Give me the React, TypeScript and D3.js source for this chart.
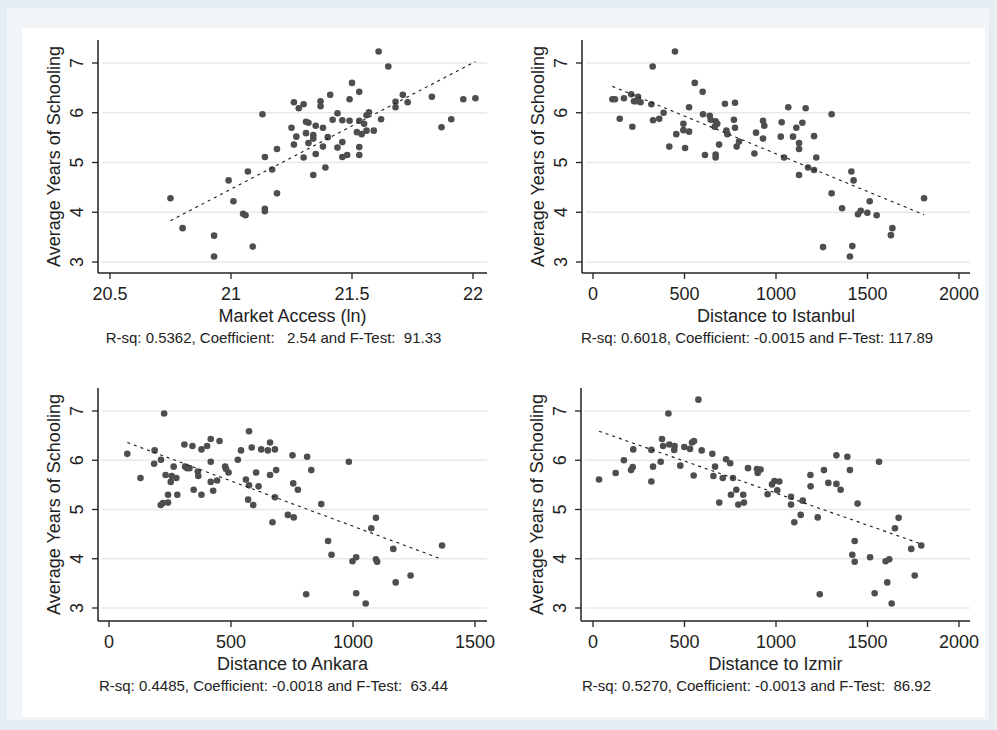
import React from "react";
import * as d3 from "d3";

// values
const yTicks = [3, 4, 5, 6, 7];
const yTitle = "Average Years of Schooling";

const marketAccessPts = [
  [20.75, 4.28], [20.80, 3.68], [20.93, 3.53], [20.93, 3.11], [20.99, 4.64], [21.01, 4.22],
  [21.05, 3.97], [21.06, 3.94], [21.07, 4.82], [21.09, 3.31], [21.13, 5.97], [21.14, 5.11],
  [21.14, 4.07], [21.14, 4.02], [21.17, 4.86], [21.19, 5.27], [21.19, 4.38], [21.25, 5.70],
  [21.26, 6.21], [21.26, 5.36], [21.27, 5.52], [21.28, 6.09], [21.30, 6.17], [21.30, 5.10],
  [21.31, 5.82], [21.32, 5.80], [21.31, 5.59], [21.32, 5.39], [21.34, 4.75], [21.34, 5.55],
  [21.34, 5.48], [21.35, 5.74], [21.35, 5.17], [21.37, 6.13], [21.37, 6.23], [21.38, 5.70],
  [21.38, 5.32], [21.39, 4.90], [21.40, 5.51], [21.41, 6.36], [21.42, 5.86], [21.44, 5.99],
  [21.44, 5.30], [21.46, 5.85], [21.46, 5.41], [21.46, 5.11], [21.48, 5.15], [21.49, 5.84],
  [21.49, 6.27], [21.50, 6.60], [21.52, 5.61], [21.53, 5.31], [21.53, 5.84], [21.53, 6.42],
  [21.53, 5.15], [21.54, 5.57], [21.55, 5.78], [21.56, 5.95], [21.56, 5.64], [21.57, 6.01],
  [21.59, 5.64], [21.61, 7.23], [21.62, 5.87], [21.65, 6.93], [21.68, 6.22], [21.68, 6.11],
  [21.71, 6.36], [21.73, 6.21], [21.83, 6.32], [21.87, 5.71], [21.91, 5.87], [21.96, 6.27],
  [22.01, 6.29],
];

const istanbulPts = [
  [106, 6.27], [120, 6.27], [146, 5.88], [169, 6.29], [209, 6.37], [215, 5.72], [224, 6.23],
  [246, 6.32], [235, 6.23], [260, 6.21], [319, 6.17], [326, 6.93], [328, 5.85], [362, 5.88],
  [386, 6.00], [417, 5.32], [455, 5.57], [494, 5.78], [494, 5.65], [503, 5.29], [525, 5.62],
  [525, 6.11], [448, 7.23], [556, 6.60], [599, 6.42], [601, 5.97], [612, 5.15], [638, 5.94],
  [643, 5.86], [665, 5.72], [670, 5.83], [670, 5.16], [670, 5.10], [679, 5.78], [689, 5.36],
  [721, 6.18], [729, 5.64], [734, 5.57], [776, 6.20], [770, 5.86], [776, 5.70], [785, 5.32],
  [798, 5.42], [882, 5.18], [891, 5.60], [929, 5.84], [936, 5.74], [929, 5.48], [1026, 5.52],
  [1031, 5.81], [1044, 5.10], [1067, 6.11], [1093, 5.52], [1111, 5.70], [1126, 5.39],
  [1126, 5.27], [1126, 4.75], [1144, 5.80], [1162, 6.09], [1175, 4.90], [1208, 5.53],
  [1208, 4.85], [1220, 5.10], [1257, 3.30], [1304, 5.97], [1304, 4.38], [1361, 4.08],
  [1412, 4.82], [1404, 3.11], [1417, 3.32], [1424, 4.64], [1448, 3.96], [1463, 4.03],
  [1499, 3.99], [1512, 4.22], [1550, 3.94], [1628, 3.54], [1636, 3.68], [1809, 4.28],
];

const ankaraPts = [
  [75, 6.13], [129, 5.64], [185, 5.93], [187, 6.20], [213, 6.01], [212, 5.09], [221, 5.13],
  [226, 6.95], [232, 5.70], [242, 5.14], [242, 5.30], [253, 5.56], [257, 5.68], [265, 5.87],
  [276, 5.64], [280, 5.30], [309, 6.32], [312, 5.87], [320, 5.84], [330, 5.84], [342, 6.29],
  [347, 5.40], [364, 5.77], [366, 5.68], [379, 6.22], [379, 5.30], [402, 6.29], [417, 6.43],
  [417, 5.97], [417, 5.56], [427, 5.38], [443, 5.59], [453, 6.39], [476, 5.87], [480, 5.82],
  [490, 5.75], [528, 6.01], [541, 6.20], [561, 5.61], [570, 5.20], [574, 6.59], [574, 5.49],
  [585, 6.26], [591, 5.09], [603, 5.75], [613, 5.47], [624, 6.22], [651, 6.20], [660, 6.36],
  [660, 5.70], [670, 4.74], [680, 6.22], [680, 5.25], [685, 5.80], [733, 4.89], [752, 6.10],
  [755, 5.53], [757, 4.84], [774, 5.40], [808, 3.28], [812, 6.07], [829, 5.80], [870, 5.11],
  [898, 4.36], [912, 4.08], [983, 5.97], [998, 3.95], [1013, 4.03], [1013, 3.30], [1052, 3.09],
  [1075, 4.62], [1094, 4.83], [1094, 3.99], [1099, 3.94], [1165, 4.20], [1175, 3.52],
  [1236, 3.66], [1365, 4.27],
];

const izmirPts = [
  [33, 5.61], [124, 5.74], [169, 6.00], [208, 5.80], [217, 5.86], [220, 6.22], [319, 6.21],
  [319, 5.57], [328, 5.87], [370, 5.97], [377, 6.43], [383, 6.29], [412, 6.95], [417, 6.32],
  [444, 6.21], [446, 6.29], [477, 5.89], [499, 6.27], [530, 6.23], [541, 6.36], [552, 6.39],
  [550, 5.69], [576, 7.23], [594, 6.20], [652, 6.13], [658, 5.68], [667, 5.87], [690, 5.14],
  [709, 5.64], [727, 6.02], [750, 5.94], [754, 5.30], [765, 5.64], [783, 5.40], [794, 5.10],
  [821, 5.30], [825, 5.14], [847, 5.84], [896, 5.82], [900, 5.74], [916, 5.81], [954, 5.31],
  [978, 5.51], [991, 5.58], [1007, 5.39], [1018, 5.57], [1082, 5.26], [1082, 5.10],
  [1100, 4.74], [1135, 4.89], [1146, 5.18], [1188, 5.70], [1189, 5.47], [1228, 4.84],
  [1239, 3.28], [1262, 5.80], [1286, 5.54], [1330, 6.10], [1330, 5.52], [1353, 5.40],
  [1390, 6.07], [1404, 5.80], [1417, 4.08], [1430, 4.36], [1430, 3.94], [1446, 5.12],
  [1514, 4.03], [1539, 3.30], [1563, 5.97], [1599, 3.95], [1608, 3.52], [1619, 3.99],
  [1632, 3.09], [1650, 4.62], [1670, 4.83], [1739, 4.20], [1758, 3.66], [1794, 4.27],
];

// fitted line end points
const marketAccessFit = [[20.75, 3.83], [22.01, 7.03]];
const istanbulFit = [[106, 6.53], [1809, 3.95]];
const ankaraFit = [[75, 6.36], [1365, 3.99]];
const izmirFit = [[33, 6.59], [1794, 4.30]];

const marketAccessTicks = [20.5, 21, 21.5, 22];
const distTicks2000 = [0, 500, 1000, 1500, 2000];
const distTicks1500 = [0, 500, 1000, 1500];

const xTitles = ["Market Access (ln)", "Distance to Istanbul", "Distance to Ankara", "Distance to Izmir"];
const captions = [
  "R-sq: 0.5362, Coefficient:   2.54 and F-Test:  91.33",
  "R-sq: 0.6018, Coefficient: -0.0015 and F-Test: 117.89",
  "R-sq: 0.4485, Coefficient: -0.0018 and F-Test:  63.44",
  "R-sq: 0.5270, Coefficient: -0.0013 and F-Test:  86.92",
];

const font = '"Liberation Sans", Arial, sans-serif';
const ink = "#222";

const panels = [
  { pts: marketAccessPts, fit: marketAccessFit, ticks: marketAccessTicks, xd: [20.5, 22], xr: [110, 473], left: 98, right: 487, top: 40, bottom: 273, yr: [262, 63] },
  { pts: istanbulPts, fit: istanbulFit, ticks: distTicks2000, xd: [0, 2000], xr: [593, 959], left: 582, right: 970, top: 40, bottom: 273, yr: [262, 63] },
  { pts: ankaraPts, fit: ankaraFit, ticks: distTicks1500, xd: [0, 1500], xr: [109, 475], left: 98, right: 487, top: 388, bottom: 621, yr: [608, 411] },
  { pts: izmirPts, fit: izmirFit, ticks: distTicks2000, xd: [0, 2000], xr: [593, 959], left: 581, right: 970, top: 388, bottom: 621, yr: [608, 411] },
];

function Panel({ p, i }) {
  const x = d3.scaleLinear().domain(p.xd).range(p.xr);
  const y = d3.scaleLinear().domain([3, 7]).range(p.yr);
  const line = d3.line().x((d) => x(d[0])).y((d) => y(d[1]));
  const midY = (p.top + p.bottom) / 2;
  const midX = (p.left + p.right) / 2;
  return (
    <g fontFamily={font} fill={ink}>
      {yTicks.map((t) => (
        <line key={"g" + t} x1={p.left + 4} x2={p.right} y1={y(t)} y2={y(t)} stroke="#e8e8e8" strokeWidth={1.5} />
      ))}
      {p.pts.map((d, k) => (
        <circle key={k} cx={x(d[0])} cy={y(d[1])} r={3.3} fill="#4e4e4e" />
      ))}
      <path d={line(p.fit)} fill="none" stroke="#1a1a1a" strokeWidth={1.1} strokeDasharray="3 4" />
      <line x1={p.left} x2={p.left} y1={p.top} y2={p.bottom} stroke={ink} strokeWidth={1.5} />
      <line x1={p.left} x2={p.right} y1={p.bottom} y2={p.bottom} stroke={ink} strokeWidth={1.5} />
      {yTicks.map((t) => (
        <g key={"y" + t}>
          <line x1={p.left - 6} x2={p.left} y1={y(t)} y2={y(t)} stroke={ink} strokeWidth={1.3} />
          <text transform={`translate(${p.left - 15},${y(t)}) rotate(-90)`} textAnchor="middle" fontSize={18}>
            {t}
          </text>
        </g>
      ))}
      {p.ticks.map((t) => (
        <g key={"x" + t}>
          <line x1={x(t)} x2={x(t)} y1={p.bottom} y2={p.bottom + 6} stroke={ink} strokeWidth={1.3} />
          <text x={x(t)} y={p.bottom + 27} textAnchor="middle" fontSize={18}>
            {t}
          </text>
        </g>
      ))}
      <text transform={`translate(${p.left - 38},${midY}) rotate(-90)`} textAnchor="middle" fontSize={18}>
        {yTitle}
      </text>
      <text x={midX} y={p.bottom + 49} textAnchor="middle" fontSize={18}>
        {xTitles[i]}
      </text>
      <text x={midX - 19} y={p.bottom + 70} textAnchor="middle" fontSize={15} xmlSpace="preserve" style={{ whiteSpace: "pre" }}>
        {captions[i]}
      </text>
    </g>
  );
}

export default function App() {
  return (
    <svg width={997} height={730} style={{ position: "absolute", left: 0, top: 0, display: "block" }}>
      <rect x={0} y={0} width={997} height={730} fill="#e6edf2" />
      <rect x={7} y={8} width={982} height={712} fill="#f1f5f7" />
      <rect x={22} y={28} width={963} height={689} fill="#ffffff" />
      {panels.map((p, i) => (
        <Panel key={i} p={p} i={i} />
      ))}
    </svg>
  );
}
